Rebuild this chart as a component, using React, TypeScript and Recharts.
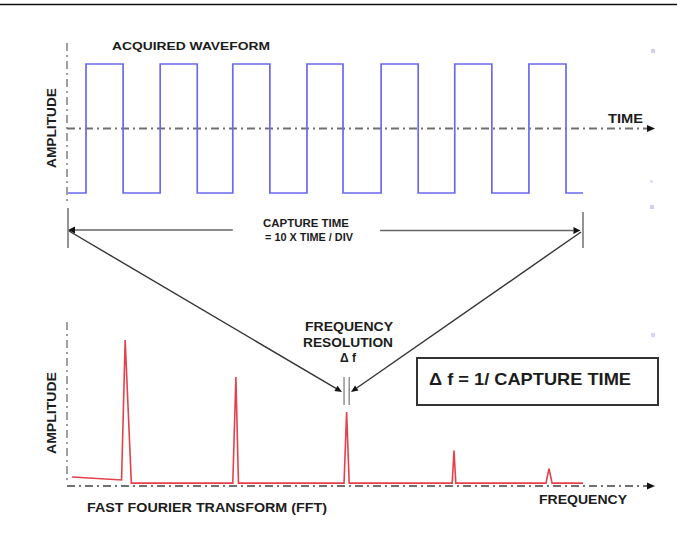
import React from 'react';
import {
  ComposedChart,
  Line,
  XAxis,
  YAxis,
  ReferenceLine,
  ReferenceArea,
  Customized,
} from 'recharts';

const W = 677;
const H = 533;
const PLOT_LEFT = 68;
const PLOT_RIGHT = 583;

// acquired waveform (time in divisions, capture = 10 div)
const waveTimes = [0, 0.35, 1.07, 1.79, 2.51, 3.2, 3.92, 4.64, 5.34, 6.08, 6.8, 7.51, 8.23, 8.95, 9.67, 10];
const waveLevels = [-1, 1, -1, 1, -1, 1, -1, 1, -1, 1, -1, 1, -1, 1, -1, -1];

// FFT magnitude (frequency in bins of delta f)
const fftFreqs = [0.8, 10.4, 11.1, 12.3, 32.0, 32.6, 33.1, 53.6, 54.1, 54.6, 74.6, 74.95, 75.3, 92.8, 93.4, 94.0, 100];
const fftMags = [6.2, 4.1, 100, 2, 2, 74.7, 2, 2, 50.7, 2, 2, 24.2, 2, 2, 11.9, 2, 2];

const CAPTURE_DIVS = 10;
const FREQ_SPAN = 100;
const RESOLVED_PEAK = 54.1;
const DELTA_F = 1;

const waveData = waveTimes.map((t, i) => ({ t, v: waveLevels[i] }));
const fftData = fftFreqs.map((f, i) => ({ f, m: fftMags[i] }));

// domain so that value v1 sits at pixel y1 and v2 at y2 (plot spans 0..H)
function domainThrough(v1: number, y1: number, v2: number, y2: number): [number, number] {
  const k = (y1 - y2) / (v2 - v1);
  const min = v1 - (H - y1) / k;
  return [min, min + H / k];
}

const ampDomain = domainThrough(-1, 193, 1, 64);
const magDomain = domainThrough(0, 486, 100, 340);

// annotation x position (page px) expressed on the time axis
const ax = (px: number) => ((px - PLOT_LEFT) / (PLOT_RIGHT - PLOT_LEFT)) * CAPTURE_DIVS;

const DASH_DOT = '8 4 2 4';

function arrow(head: boolean, size = 8, half = 3.5) {
  return (p: any) => {
    const { x1, y1, x2, y2, stroke, strokeWidth, strokeDasharray } = p;
    const dx = x2 - x1;
    const dy = y2 - y1;
    const len = Math.hypot(dx, dy) || 1;
    const ux = dx / len;
    const uy = dy / len;
    const bx = x2 - ux * size;
    const by = y2 - uy * size;
    const pts = `${x2},${y2} ${bx - uy * half},${by + ux * half} ${bx + uy * half},${by - ux * half}`;
    return (
      <g>
        <line
          x1={x1}
          y1={y1}
          x2={head ? bx : x2}
          y2={head ? by : y2}
          stroke={stroke}
          strokeWidth={strokeWidth}
          strokeDasharray={strokeDasharray}
        />
        {head && <polygon points={pts} fill="#111" />}
      </g>
    );
  };
}

function Overlay() {
  const f = {
    fontFamily: '"Liberation Sans", Arial, sans-serif',
    fontWeight: 700,
    fill: '#1c1c1c',
    lengthAdjust: 'spacingAndGlyphs' as const,
  };
  return (
    <g>
      <line x1={0} x2={W} y1={4.5} y2={4.5} stroke="#111" strokeWidth={1.6} />
      <text x={112} y={49.5} fontSize={11} textLength={158} {...f}>ACQUIRED WAVEFORM</text>
      <text transform="translate(56,128) rotate(-90)" textAnchor="middle" fontSize={12} textLength={80} {...f}>AMPLITUDE</text>
      <text x={608} y={123} fontSize={12.5} textLength={35} {...f}>TIME</text>
      <text x={263} y={226.5} fontSize={10.5} textLength={86} {...f}>CAPTURE TIME</text>
      <text x={265} y={241} fontSize={10.5} textLength={88} {...f}>= 10 X TIME / DIV</text>
      <text x={305} y={331} fontSize={12} textLength={88} {...f}>FREQUENCY</text>
      <text x={303} y={347} fontSize={12} textLength={90} {...f}>RESOLUTION</text>
      <text x={348} y={362} fontSize={12} textAnchor="middle" {...f}>Δ f</text>
      <text x={429} y={385} fontSize={17} textLength={202} {...f}>Δ f = 1/ CAPTURE TIME</text>
      <text transform="translate(56,413) rotate(-90)" textAnchor="middle" fontSize={12} textLength={82} {...f}>AMPLITUDE</text>
      <text x={87} y={512} fontSize={13.5} textLength={240} {...f}>FAST FOURIER TRANSFORM (FFT)</text>
      <text x={539} y={504} fontSize={13} textLength={88} {...f}>FREQUENCY</text>
      <rect x={651} y={49} width={4} height={4} fill="#cfcff4" />
      <rect x={650} y={180} width={3} height={3} fill="#e0e0f6" />
      <rect x={650} y={205} width={4} height={4} fill="#cfcff4" />
      <rect x={651} y={333} width={4} height={4} fill="#d6d6f4" />
    </g>
  );
}

export default function App() {
  return (
    <div style={{ position: 'absolute', left: 0, top: 0, width: W, height: H, background: '#fff' }}>
      <ComposedChart
        width={W}
        height={H}
        margin={{ top: 0, right: W - PLOT_RIGHT, bottom: 0, left: PLOT_LEFT }}
      >
        <XAxis xAxisId="time" type="number" dataKey="t" domain={[0, CAPTURE_DIVS]} allowDataOverflow hide />
        <XAxis xAxisId="freq" type="number" dataKey="f" domain={[0, FREQ_SPAN]} allowDataOverflow hide />
        <YAxis yAxisId="amp" type="number" domain={ampDomain} allowDataOverflow hide />
        <YAxis yAxisId="mag" type="number" domain={magDomain} allowDataOverflow hide />
        <YAxis yAxisId="px" type="number" domain={[0, H]} reversed allowDataOverflow hide />

        {/* top panel axes */}
        <ReferenceLine xAxisId="time" yAxisId="px" ifOverflow="visible"
          segment={[{ x: ax(67), y: 43 }, { x: ax(67), y: 204 }]}
          stroke="#808080" strokeWidth={1.5} strokeDasharray={DASH_DOT} />
        <ReferenceLine xAxisId="time" yAxisId="amp" ifOverflow="visible"
          segment={[{ x: ax(67), y: 0 }, { x: ax(655), y: 0 }]}
          stroke="#707070" strokeWidth={2} strokeDasharray={DASH_DOT} shape={arrow(true)} />

        {/* capture time span */}
        <ReferenceLine xAxisId="time" yAxisId="px" ifOverflow="visible"
          segment={[{ x: 0, y: 208 }, { x: 0, y: 248 }]} stroke="#707070" strokeWidth={1.5} />
        <ReferenceLine xAxisId="time" yAxisId="px" ifOverflow="visible"
          segment={[{ x: CAPTURE_DIVS, y: 212 }, { x: CAPTURE_DIVS, y: 248 }]} stroke="#707070" strokeWidth={1.5} />
        <ReferenceLine xAxisId="time" yAxisId="px" ifOverflow="visible"
          segment={[{ x: 3.2, y: 230 }, { x: 0, y: 230 }]}
          stroke="#666" strokeWidth={1.5} shape={arrow(true, 7, 3.5)} />
        <ReferenceLine xAxisId="time" yAxisId="px" ifOverflow="visible"
          segment={[{ x: 6.06, y: 230.5 }, { x: 9.95, y: 230.5 }]}
          stroke="#666" strokeWidth={1.5} shape={arrow(true, 7, 3.5)} />

        {/* pointers to delta f */}
        <ReferenceLine xAxisId="time" yAxisId="px" ifOverflow="visible"
          segment={[{ x: ax(69), y: 231 }, { x: ax(342), y: 392 }]}
          stroke="#333" strokeWidth={1.4} shape={arrow(true, 7, 3)} />
        <ReferenceLine xAxisId="time" yAxisId="px" ifOverflow="visible"
          segment={[{ x: ax(581), y: 232 }, { x: ax(351), y: 392 }]}
          stroke="#333" strokeWidth={1.4} shape={arrow(true, 7, 3)} />
        <ReferenceLine xAxisId="freq" yAxisId="px" ifOverflow="visible"
          segment={[{ x: RESOLVED_PEAK - DELTA_F / 2, y: 377 }, { x: RESOLVED_PEAK - DELTA_F / 2, y: 405 }]}
          stroke="#808080" strokeWidth={1.3} />
        <ReferenceLine xAxisId="freq" yAxisId="px" ifOverflow="visible"
          segment={[{ x: RESOLVED_PEAK + DELTA_F / 2, y: 377 }, { x: RESOLVED_PEAK + DELTA_F / 2, y: 405 }]}
          stroke="#808080" strokeWidth={1.3} />

        {/* bottom panel axes */}
        <ReferenceLine xAxisId="time" yAxisId="px" ifOverflow="visible"
          segment={[{ x: ax(67), y: 322 }, { x: ax(67), y: 484 }]}
          stroke="#808080" strokeWidth={1.5} strokeDasharray={DASH_DOT} />
        <ReferenceLine xAxisId="time" yAxisId="mag" ifOverflow="visible"
          segment={[{ x: ax(67), y: 0 }, { x: ax(655), y: 0 }]}
          stroke="#707070" strokeWidth={2} strokeDasharray={DASH_DOT} shape={arrow(true)} />

        <ReferenceArea xAxisId="time" yAxisId="px" ifOverflow="visible"
          x1={ax(417)} x2={ax(658)} y1={358} y2={405}
          fill="none" fillOpacity={0} stroke="#333" strokeWidth={2} />

        <Line
          xAxisId="time"
          yAxisId="amp"
          data={waveData}
          dataKey="v"
          type="stepAfter"
          stroke="#6a6aee"
          strokeWidth={1.7}
          dot={false}
          activeDot={false}
          isAnimationActive={false}
        />
        <Line
          xAxisId="freq"
          yAxisId="mag"
          data={fftData}
          dataKey="m"
          type="linear"
          stroke="#e5414b"
          strokeWidth={1.6}
          dot={false}
          activeDot={false}
          isAnimationActive={false}
        />
        <Customized component={<Overlay />} />
      </ComposedChart>
    </div>
  );
}
